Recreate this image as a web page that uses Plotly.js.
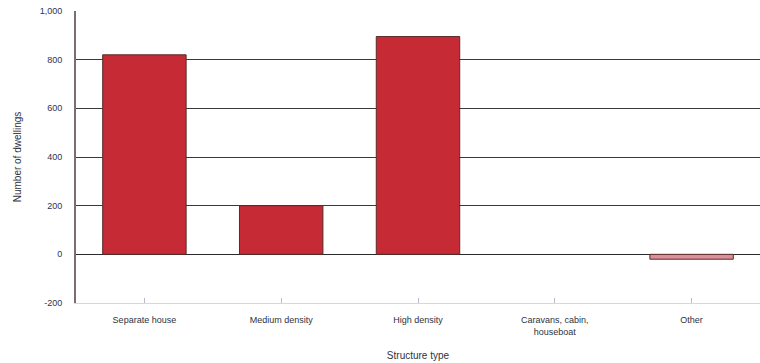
<!DOCTYPE html>
<html>
<head>
<meta charset="utf-8">
<script src="https://cdn.plot.ly/plotly-3.0.1.min.js"></script>
<style>html,body{margin:0;padding:0;background:#fff;}#chart{width:760px;height:363px;}</style>
</head>
<body>
<div id="chart"></div>
<script>
const categories = ["Separate house", "Medium density", "High density", "Caravans, cabin,<br>houseboat", "Other"];
const dwellings = [820, 200, 895, 0, -20];
const yTickValues = [-200, 0, 200, 400, 600, 800, 1000];
const yTickLabels = ["-200", "0", "200", "400", "600", "800", "1,000"];

const barColors = dwellings.map(v => v < 0 ? "#d9909a" : "#c62a35");
const barLineWidths = dwellings.map(v => v === 0 ? 0 : 1);

const trace = {
  type: "bar",
  x: categories,
  y: dwellings,
  marker: { color: barColors, line: { color: "#5a2a2a", width: barLineWidths } },
  hoverinfo: "x+y"
};

const layout = {
  width: 760, height: 363,
  margin: { l: 76, r: 0, t: 11, b: 60 },
  paper_bgcolor: "#ffffff",
  plot_bgcolor: "#ffffff",
  bargap: 0.39,
  showlegend: false,
  font: { family: "Liberation Sans, Arial, sans-serif", size: 9, color: "#2e3340" },
  xaxis: {
    type: "category",
    showgrid: false,
    showline: true, linecolor: "#d4d6e0", linewidth: 1,
    ticks: "inside", ticklen: 5, tickcolor: "#b8bcc8",
    ticklabelstandoff: 8,
    tickfont: { size: 9, color: "#2e3340" },
    title: { text: "Structure type", font: { size: 10, color: "#2e3340" }, standoff: 16 },
    fixedrange: true
  },
  yaxis: {
    range: [-200, 1000],
    tickvals: yTickValues,
    ticktext: yTickLabels,
    showgrid: true, gridcolor: "#3a3a3a", gridwidth: 1,
    zeroline: true, zerolinecolor: "#2a2a2a", zerolinewidth: 1,
    showline: true, linecolor: "#7a6e6e", linewidth: 2,
    ticks: "", ticklabelstandoff: 10,
    tickfont: { size: 9, color: "#2e3350" },
    title: { text: "Number of dwellings", font: { size: 10, color: "#2e3340" }, standoff: 16 },
    fixedrange: true
  }
};

Plotly.newPlot("chart", [trace], layout, { displayModeBar: false, staticPlot: true });
</script>
</body>
</html>
